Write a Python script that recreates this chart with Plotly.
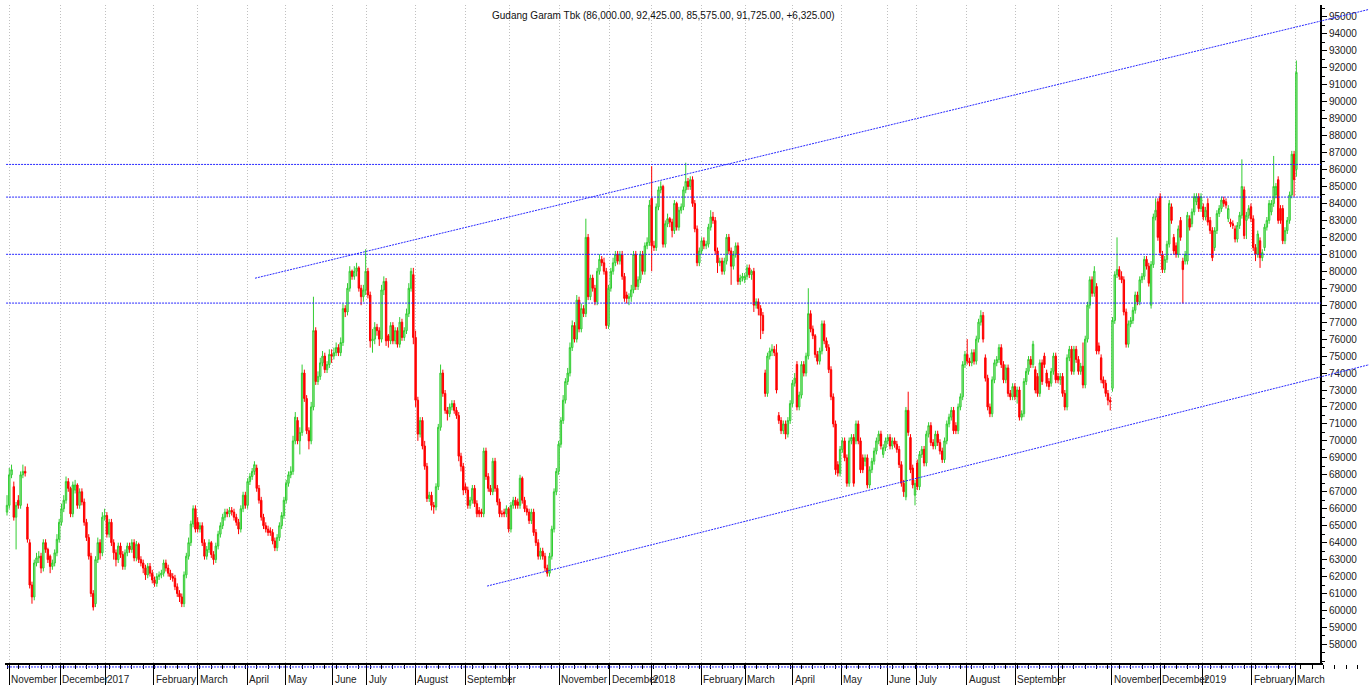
import plotly.graph_objects as go

# ---- Daily OHLC of Gudang Garam Tbk, in hundreds of rupiah (one line per month) ----
opens = [
    658,  # Oct 2016
    662, 680, 673, 655, 665, 662, 680, 682, 661, 640, 615, 608, 628, 631, 632, 625, 640, 636, 632, 626, 628, 634,
    642, 652, 660, 665, 676, 672, 657, 671, 674, 662, 670, 664, 652, 643, 632, 610, 604, 630, 640, 634,
    655, 656, 645, 652, 640, 634, 630, 638, 633, 626, 634, 638, 636, 640, 631, 639, 630, 628, 625, 621, 626,
    622, 618, 616, 620, 621, 622, 628, 625, 622, 620, 619, 614, 610, 608, 604, 621, 632, 640, 651, 660,
    652, 648, 650, 640, 632, 636, 640, 633, 630, 638, 645, 650, 655, 658, 657, 659, 658, 655, 652, 648, 660, 668,
    662, 676, 679, 682, 684, 672, 665, 655, 650, 648, 647, 646, 641, 637, 643, 650, 656,
    665, 675, 680, 682, 700, 712, 700, 705, 740, 725, 706, 700, 720, 765, 735, 738, 746, 750, 742, 745,
    751, 750, 752, 755, 752, 758, 778, 776, 790, 800, 797, 800, 802, 790, 785,
    789, 800, 786, 759, 760, 767, 765, 760, 789, 794, 762, 759, 768, 759, 765, 757, 770, 761, 765, 775, 790, 798,
    761, 724, 704, 712, 697, 685, 666, 668, 662, 661, 673, 708, 740, 728, 718, 716, 720, 722, 718, 715, 691, 685,
    673, 671, 662, 665, 672, 663, 659, 658, 657, 694, 679, 672, 670, 688, 672, 664, 657, 658, 657,
    660, 648, 662, 665, 664, 662, 678, 665, 660, 658, 653, 658, 646, 640, 632, 635, 632, 625, 622, 632, 648, 670,
    682, 698, 712, 724, 735, 740, 755, 768, 760, 783, 766, 778, 775, 820, 785, 796, 790, 782, 800, 807, 805, 800,
    768, 790, 800, 805, 810, 806, 810, 797, 786, 784, 785, 789, 810, 791, 795, 810, 800, 815, 817,
    843, 815, 814, 838, 848, 850, 816, 828, 831, 829, 824, 840, 826, 836, 838, 848, 853, 850, 854, 840, 825, 805,
    812, 818, 815, 816, 826, 832, 830, 812, 805, 806, 800, 806, 820, 812, 803, 810, 815, 794, 796,
    795, 797, 802, 798, 800, 780, 782, 778, 774, 740, 728, 750, 753, 754, 752, 715, 712, 706, 710, 704, 712,
    722, 734, 745, 720, 727, 745, 740, 750, 775, 766, 762, 751, 747, 753, 769, 759, 755, 742, 726, 710, 686,
    681, 695, 700, 690, 675, 700, 702, 700, 710, 700, 690, 688, 690, 674, 683, 688, 694, 700, 704, 692, 696,
    700, 702, 697, 700, 698, 695, 686, 675, 667, 718, 702, 684, 668,
    687, 673, 692, 695, 687, 704, 709, 699, 697, 704, 699, 694, 689, 700, 710, 714, 718, 709, 706, 720, 726, 745,
    751, 747, 746, 752, 747, 760, 770, 774, 749, 737, 720, 716, 736, 746, 748, 755, 745, 736, 743, 728, 726,
    732, 726, 730, 714, 716, 735, 741, 748, 745, 742, 738, 728, 746, 750, 740, 735, 734, 741, 750,
    738, 736, 738, 728, 720, 749, 754, 741, 754, 748, 741, 744, 733, 760, 780, 795, 787, 791, 756, 749, 736, 734, 728,
    724, 731, 771, 798, 801, 797, 795, 776, 757, 769, 771, 777, 786, 782, 795, 797, 807, 803, 780, 804, 832, 841,
    844, 810, 801, 807, 816, 838, 820, 815, 810, 830, 806, 806, 806, 831, 828, 835, 841, 844, 837,
    838, 832, 840, 830, 824, 814, 824, 834, 837, 842, 841, 831, 829, 828, 825, 819, 827, 833, 848, 830, 833, 838,
    831, 814, 810, 818, 808, 814, 826, 830, 835, 840, 845, 854, 837, 837, 818, 824, 830, 845, 869,
    860,  # Mar 2019
]
highs = [
    668,
    684, 686, 676, 664, 668, 682, 686, 685, 663, 642, 617, 630, 634, 635, 634, 642, 642, 637, 633, 630, 636, 645,
    654, 663, 668, 679, 678, 673, 676, 677, 675, 672, 672, 666, 654, 645, 634, 612, 632, 643, 642, 658,
    660, 658, 654, 654, 642, 636, 640, 640, 635, 636, 640, 640, 642, 642, 641, 640, 632, 630, 627, 628, 628,
    624, 620, 622, 623, 624, 630, 630, 627, 624, 622, 621, 616, 612, 610, 623, 634, 643, 653, 662, 662,
    655, 652, 652, 642, 638, 642, 641, 635, 640, 647, 652, 657, 660, 660, 661, 661, 660, 657, 654, 662, 670, 670,
    678, 681, 684, 688, 686, 674, 667, 657, 652, 650, 649, 648, 643, 645, 652, 658, 667,
    677, 682, 685, 703, 717, 714, 708, 745, 742, 727, 708, 723, 785, 767, 741, 749, 753, 752, 747, 754,
    754, 755, 758, 757, 761, 781, 780, 793, 803, 801, 803, 805, 803, 792, 792,
    813, 802, 788, 766, 770, 769, 767, 792, 797, 796, 763, 770, 770, 767, 767, 773, 772, 767, 778, 793, 802, 802,
    765, 726, 714, 714, 700, 687, 670, 670, 664, 675, 710, 745, 742, 730, 720, 722, 724, 724, 720, 717, 693, 687,
    675, 673, 667, 674, 674, 665, 661, 660, 696, 696, 681, 674, 690, 690, 674, 666, 659, 660, 662,
    661, 664, 667, 667, 666, 680, 679, 667, 662, 660, 660, 660, 648, 642, 637, 637, 634, 627, 634, 650, 672, 684,
    700, 714, 727, 737, 743, 758, 771, 770, 786, 785, 781, 780, 831, 822, 798, 798, 792, 802, 810, 809, 808, 802,
    792, 802, 808, 812, 812, 812, 812, 799, 788, 787, 792, 812, 812, 797, 812, 812, 817, 820, 842,
    862, 818, 840, 850, 853, 851, 830, 834, 832, 831, 842, 841, 838, 840, 850, 864, 855, 856, 856, 842, 827, 814,
    820, 820, 818, 828, 836, 835, 832, 814, 808, 808, 808, 822, 822, 814, 812, 817, 817, 798, 799,
    799, 804, 804, 801, 802, 784, 784, 780, 776, 742, 752, 755, 757, 756, 757, 717, 714, 712, 712, 714, 724,
    736, 740, 747, 729, 747, 747, 752, 790, 777, 768, 763, 753, 755, 771, 771, 761, 757, 744, 728, 712, 688,
    697, 702, 702, 692, 702, 704, 704, 712, 712, 702, 692, 692, 692, 685, 690, 696, 702, 706, 706, 698, 702,
    704, 704, 702, 702, 700, 697, 688, 677, 720, 729, 704, 686, 677,
    689, 694, 697, 697, 706, 711, 711, 701, 706, 706, 701, 696, 702, 712, 716, 720, 720, 711, 722, 728, 747, 753,
    760, 749, 754, 754, 762, 772, 777, 776, 751, 739, 722, 738, 748, 750, 757, 757, 747, 745, 745, 730, 734,
    734, 732, 732, 718, 737, 743, 750, 750, 759, 744, 740, 748, 748, 752, 742, 737, 743, 752, 752,
    740, 740, 740, 730, 751, 756, 756, 756, 756, 750, 746, 758, 762, 782, 797, 797, 803, 793, 758, 751, 738, 736, 730,
    726, 773, 800, 820, 803, 800, 797, 778, 771, 773, 779, 788, 788, 797, 799, 809, 809, 805, 806, 834, 843, 843,
    846, 812, 809, 818, 842, 840, 822, 817, 827, 832, 808, 812, 835, 833, 837, 846, 846, 846, 846,
    840, 838, 843, 832, 826, 826, 836, 839, 844, 844, 843, 839, 831, 830, 827, 829, 835, 866, 850, 835, 839, 840,
    833, 816, 824, 820, 813, 828, 832, 842, 842, 868, 852, 856, 839, 839, 826, 832, 847, 871, 871,
    924.25,
]
lows = [
    656,
    660, 678, 653, 636, 660, 660, 678, 679, 640, 613, 604, 606, 626, 628, 622, 623, 634, 628, 622, 624, 626, 632,
    640, 650, 658, 663, 670, 655, 655, 669, 660, 660, 662, 650, 641, 630, 608, 600, 602, 628, 630, 632,
    653, 643, 643, 638, 630, 626, 628, 631, 624, 624, 632, 634, 634, 629, 629, 628, 626, 622, 618, 619, 620,
    616, 614, 614, 618, 619, 620, 623, 620, 618, 617, 612, 608, 605, 602, 602, 619, 630, 638, 649, 646,
    646, 646, 638, 630, 630, 634, 631, 627, 628, 636, 643, 648, 653, 655, 655, 656, 653, 650, 645, 646, 658, 660,
    660, 674, 677, 680, 670, 663, 653, 648, 646, 644, 644, 639, 635, 635, 641, 648, 654,
    663, 673, 678, 680, 698, 698, 692, 703, 723, 704, 695, 698, 718, 733, 733, 736, 744, 740, 740, 743,
    746, 748, 750, 750, 750, 756, 773, 774, 788, 795, 795, 797, 788, 780, 782,
    786, 784, 755, 752, 757, 762, 756, 758, 786, 756, 755, 757, 757, 757, 755, 755, 759, 759, 763, 773, 788, 757,
    720, 700, 702, 695, 683, 664, 664, 659, 657, 659, 671, 706, 726, 716, 712, 714, 718, 716, 713, 688, 682, 668,
    669, 660, 660, 663, 661, 655, 655, 655, 655, 677, 670, 668, 668, 670, 662, 655, 655, 655, 655,
    646, 646, 660, 660, 660, 660, 663, 658, 656, 651, 651, 644, 638, 630, 630, 630, 623, 620, 620, 630, 646, 668,
    680, 696, 710, 722, 733, 738, 753, 758, 758, 764, 764, 773, 773, 783, 783, 788, 780, 780, 798, 803, 798, 766,
    766, 788, 798, 803, 804, 804, 795, 782, 781, 780, 782, 787, 789, 789, 793, 798, 798, 813, 815,
    800, 812, 812, 836, 846, 814, 814, 826, 826, 820, 822, 824, 824, 834, 836, 846, 848, 848, 838, 823, 803, 803,
    810, 813, 813, 814, 824, 828, 810, 799, 803, 798, 798, 804, 810, 792, 801, 808, 792, 792, 794,
    793, 795, 796, 795, 776, 778, 774, 760, 763, 726, 726, 748, 750, 750, 728, 710, 704, 704, 701, 702, 710,
    720, 732, 718, 718, 725, 738, 738, 748, 764, 760, 749, 745, 745, 751, 757, 753, 740, 724, 708, 680, 679,
    679, 693, 688, 673, 673, 698, 673, 698, 698, 681, 681, 685, 672, 672, 681, 686, 692, 698, 695, 690, 694,
    698, 695, 695, 696, 693, 684, 673, 667, 665, 703, 681, 672, 662,
    671, 671, 690, 685, 685, 702, 697, 695, 695, 697, 692, 687, 687, 698, 708, 712, 704, 704, 704, 718, 724, 743,
    745, 744, 744, 745, 745, 758, 768, 758, 735, 718, 714, 714, 734, 744, 746, 743, 734, 734, 726, 724, 724,
    724, 722, 712, 712, 714, 733, 739, 743, 743, 728, 726, 726, 733, 743, 732, 730, 732, 739, 734,
    734, 733, 726, 718, 718, 747, 739, 739, 746, 739, 739, 731, 731, 758, 778, 785, 785, 751, 751, 734, 731, 726, 721,
    718, 729, 769, 796, 795, 793, 774, 755, 755, 767, 769, 775, 780, 780, 793, 795, 801, 791, 778, 802, 830, 818,
    809, 799, 799, 805, 814, 828, 810, 808, 808, 818, 781, 804, 804, 824, 826, 833, 839, 835, 835,
    830, 830, 827, 822, 806, 812, 822, 832, 835, 838, 837, 829, 826, 825, 817, 817, 825, 831, 819, 819, 831, 829,
    812, 806, 808, 802, 806, 812, 824, 828, 833, 838, 843, 828, 828, 816, 816, 822, 828, 843, 844,
    855.75,
]
closes = [
    662,
    680, 683, 655, 662, 662, 680, 682, 681, 642, 615, 608, 628, 631, 632, 625, 640, 636, 630, 626, 628, 634, 642,
    652, 660, 665, 676, 672, 657, 674, 674, 662, 670, 664, 652, 643, 632, 610, 602, 630, 640, 634, 655,
    656, 645, 652, 640, 634, 630, 638, 633, 626, 634, 638, 636, 640, 631, 639, 630, 628, 625, 621, 626, 622,
    618, 616, 620, 621, 622, 628, 625, 622, 620, 619, 614, 610, 608, 604, 621, 632, 640, 651, 660, 648,
    648, 650, 640, 632, 636, 640, 633, 630, 638, 645, 650, 655, 658, 657, 659, 658, 655, 652, 648, 660, 668, 662,
    676, 679, 682, 686, 672, 665, 655, 650, 648, 646, 646, 641, 637, 643, 650, 656, 665,
    675, 680, 682, 700, 714, 700, 705, 740, 725, 706, 700, 720, 765, 735, 738, 746, 750, 742, 745, 751,
    750, 752, 755, 752, 758, 778, 776, 790, 800, 797, 800, 802, 790, 785, 789,
    800, 786, 759, 760, 767, 765, 760, 789, 794, 759, 759, 768, 759, 765, 757, 770, 761, 765, 775, 790, 800, 761,
    724, 704, 712, 697, 685, 666, 668, 662, 661, 673, 708, 740, 728, 718, 716, 720, 722, 718, 715, 691, 685, 671,
    671, 662, 665, 672, 663, 657, 657, 657, 694, 679, 672, 670, 688, 672, 664, 657, 657, 657, 660,
    648, 662, 665, 662, 662, 678, 665, 660, 658, 653, 658, 646, 640, 632, 635, 632, 625, 622, 632, 648, 670, 682,
    698, 712, 724, 735, 740, 755, 768, 760, 783, 766, 778, 775, 820, 785, 796, 790, 782, 800, 807, 805, 800, 768,
    790, 800, 805, 810, 806, 810, 797, 784, 784, 785, 789, 810, 791, 795, 810, 800, 815, 817, 839,
    815, 814, 838, 848, 850, 816, 828, 831, 829, 824, 840, 826, 836, 838, 848, 853, 850, 854, 840, 825, 805, 812,
    818, 815, 816, 826, 832, 830, 812, 805, 806, 800, 806, 820, 812, 803, 810, 815, 794, 796, 797,
    797, 802, 798, 800, 780, 782, 778, 774, 765, 728, 750, 753, 754, 752, 730, 712, 706, 710, 704, 712, 722,
    734, 737, 720, 727, 745, 740, 750, 775, 766, 762, 751, 747, 753, 769, 759, 755, 742, 726, 710, 683, 681,
    695, 700, 690, 675, 700, 702, 675, 710, 700, 683, 683, 690, 674, 683, 688, 694, 700, 704, 697, 696, 700,
    702, 697, 700, 698, 695, 686, 675, 670, 718, 705, 683, 674, 675,
    673, 692, 695, 687, 704, 709, 699, 697, 704, 699, 694, 689, 700, 710, 714, 718, 706, 706, 720, 726, 745, 751,
    747, 746, 752, 747, 760, 770, 774, 760, 737, 720, 716, 736, 746, 748, 755, 745, 736, 743, 728, 726, 732,
    726, 730, 714, 716, 735, 741, 748, 745, 757, 730, 728, 746, 735, 745, 734, 732, 741, 750, 736,
    736, 738, 728, 720, 749, 754, 741, 754, 748, 741, 744, 733, 760, 780, 795, 787, 800, 753, 753, 736, 734, 728, 724,
    723, 771, 798, 801, 797, 795, 776, 757, 769, 771, 777, 786, 782, 795, 797, 807, 803, 793, 804, 832, 836, 820,
    811, 801, 807, 816, 840, 830, 812, 810, 825, 820, 801, 810, 833, 826, 835, 844, 844, 837, 844,
    832, 836, 829, 824, 808, 824, 834, 837, 842, 840, 839, 837, 828, 827, 819, 827, 833, 850, 821, 833, 837, 831,
    814, 810, 822, 808, 811, 826, 830, 840, 840, 850, 850, 830, 830, 818, 824, 830, 845, 869, 854,
    917.25,
]
PRICE_UNIT = 100  # values above are in hundreds of rupiah

# month boundaries on the trading-day axis and their labels
month_pos = [1.0, 23.5, 43.3, 64.6, 84.0, 105.9, 122.9, 143.5, 158.5, 179.9, 201.9, 221.3,
             243.3, 265.6, 283.8, 305.9, 325.2, 346.1, 367.5, 387.8, 400.7, 422.8, 444.2,
             463.3, 486.7, 508.1, 526.5, 548.3, 567.4]
month_labels = ["November", "December", "2017", "February", "March", "April", "May", "June",
                "July", "August", "September", "", "November", "December", "2018", "February",
                "March", "April", "May", "June", "July", "August", "September", "", "November",
                "December", "2019", "February", "March"]

# price axis ticks
ytick_vals = list(range(58000, 95001, 1000))
ytick_text = [str(v) for v in ytick_vals]

# support / resistance levels and trend channel (trading-day index, price)
levels = [86300, 84375, 81000, 78125]
upper_trend = (109.25, 79590, 600.0, 95440)
lower_trend = (211.5, 61440, 600.0, 74490)

title_text = "Gudang Garam Tbk (86,000.00, 92,425.00, 85,575.00, 91,725.00, +6,325.00)"

# ---------------------------------------------------------------------------
N = min(len(opens), len(highs), len(lows), len(closes))
if not (len(opens) == len(highs) == len(lows) == len(closes)):
    print("length mismatch", len(opens), len(highs), len(lows), len(closes))
x = list(range(N))

FONT = "Liberation Sans, Arial, Helvetica, sans-serif"
BLUE = "rgb(40,40,255)"
BLUE_DASH = "2px,1px"
W, H = 1369, 685
ML, MR, MT, MB = 5, 0, 5, 21
plot_w = W - ML - MR
plot_h = H - MT - MB
axis_px = 1321
ypos = (axis_px - ML) / plot_w

fig = go.Figure(go.Candlestick(
    x=x,
    open=[v * PRICE_UNIT for v in opens[:N]],
    high=[v * PRICE_UNIT for v in highs[:N]],
    low=[v * PRICE_UNIT for v in lows[:N]],
    close=[v * PRICE_UNIT for v in closes[:N]],
    increasing=dict(line=dict(color="rgb(50,205,50)", width=1), fillcolor="rgb(160,232,160)"),
    decreasing=dict(line=dict(color="rgb(255,0,0)", width=1), fillcolor="rgb(255,0,0)"),
    hoverinfo="skip",
    showlegend=False,
))

shapes = []
for lvl in levels:
    shapes.append(dict(type="line", xref="paper", yref="y", x0=0.0008, x1=ypos, y0=lvl, y1=lvl,
                       line=dict(color=BLUE, width=1, dash=BLUE_DASH)))
for (x0, y0, x1, y1) in (upper_trend, lower_trend):
    shapes.append(dict(type="line", xref="x", yref="y", x0=x0, y0=y0, x1=x1, y1=y1,
                       line=dict(color=BLUE, width=1, dash=BLUE_DASH)))
# bottom axis line (ends at the price axis)
shapes.append(dict(type="line", xref="paper", yref="paper", x0=0, x1=ypos + 0.0015, y0=0, y1=0,
                   line=dict(color="black", width=2)))
# thin blue dotted baseline under the candles
shapes.append(dict(type="line", xref="x", yref="paper", x0=0, x1=N - 1, y0=-0.0045, y1=-0.0045,
                   line=dict(color=BLUE, width=1, dash=BLUE_DASH)))

annotations = [dict(text=title_text, xref="paper", yref="paper",
                    x=(663 - ML) / plot_w, y=(H - MB - 16) / plot_h,
                    xanchor="center", yanchor="middle", showarrow=False,
                    font=dict(family=FONT, size=10, color="#111"))]
for pos, lab in zip(month_pos, month_labels):
    if lab:
        annotations.append(dict(text=lab, xref="x", yref="paper", x=pos, y=(H - MB - 679) / plot_h,
                                xanchor="left", yanchor="middle", showarrow=False, xshift=0,
                                font=dict(family=FONT, size=10, color="#222")))

fig.update_layout(
    width=W, height=H,
    margin=dict(l=ML, r=MR, t=MT, b=MB, pad=0, autoexpand=False),
    paper_bgcolor="white", plot_bgcolor="white",
    showlegend=False, boxgap=0.12,
    font=dict(family=FONT, size=10, color="#222"),
    xaxis=dict(
        range=[-0.881, 600.0], rangeslider=dict(visible=False),
        tickmode="array", tickvals=month_pos, ticktext=[""] * len(month_pos),
        showticklabels=False, ticks="outside", ticklen=21, tickwidth=1, tickcolor="black",
        showgrid=True, gridcolor="#c0c0c0", griddash="1px,2px", gridwidth=1,
        showline=False, zeroline=False, fixedrange=True,
        minor=dict(tick0=0, dtick=5, ticks="outside", ticklen=4, tickcolor="black", showgrid=False),
    ),
    yaxis=dict(
        range=[56845, 95700], side="right", anchor="free", position=ypos,
        tickmode="array", tickvals=ytick_vals, ticktext=ytick_text,
        ticks="outside", ticklen=5, tickwidth=1, tickcolor="black",
        showline=True, linecolor="black", linewidth=2,
        showgrid=False, zeroline=False, automargin=False, fixedrange=True,
        tickfont=dict(family=FONT, size=10, color="#222"),
        minor=dict(tick0=0, dtick=500, ticks="outside", ticklen=3, tickcolor="black", showgrid=False),
    ),
    shapes=shapes,
    annotations=annotations,
)

page_fix = ("document.body.style.margin='0px';document.body.style.padding='0px';"
            "document.body.style.overflow='hidden';")
fig.write_html("out.html", post_script=page_fix, config={"displayModeBar": False})
